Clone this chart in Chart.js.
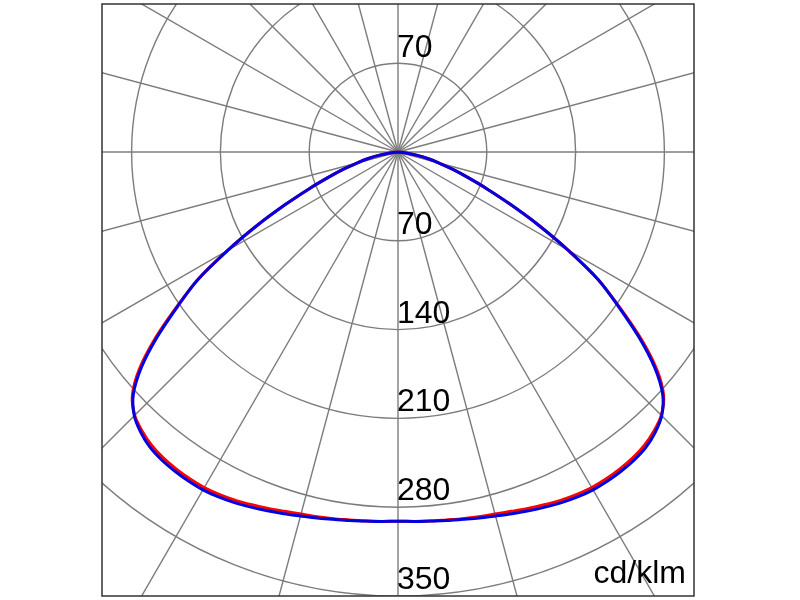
<!DOCTYPE html>
<html>
<head>
<meta charset="utf-8">
<script src="https://cdn.jsdelivr.net/npm/chart.js@4/dist/chart.umd.min.js"></script>
<style>
  html, body { margin: 0; padding: 0; background: #ffffff; }
  canvas { display: block; }
</style>
</head>
<body>
<canvas id="c" width="800" height="600"></canvas>
<script>
// ---- data ----
const gammaDeg      = [0, 2.5, 5, 7.5, 10, 12.5, 15, 17.5, 20, 22.5, 25, 27.5, 30, 32.5, 35, 37.5, 40, 42.5, 45,
                       47.5, 50, 52.5, 55, 57.5, 60, 62.5, 65, 67.5, 70, 72.5, 75, 77.5, 80, 82.5, 85];
const intensityC0   = [291, 291.5, 292, 293, 294, 295.5, 297, 299, 301, 303, 305, 306.5, 307.5, 307.5, 307, 306, 304, 300, 294,
                       283, 264, 239, 212, 187, 155, 125, 98, 76, 58.5, 45, 33.5, 24.5, 15.5, 6.5, 0];
const intensityC90  = [291, 291.5, 292, 292.5, 293.5, 294.5, 295.5, 297, 299, 301, 303, 304.5, 305.5, 305.5, 305, 304, 302, 298.5, 293.5,
                       284, 266, 241, 213, 187, 155, 125, 98, 76, 58.5, 45, 33.5, 24.5, 15.5, 6.5, 0];
const ringValues    = [70, 140, 210, 280, 350];
const ringLabels    = ['70', '140', '210', '280', '350'];
const spokeAngles   = [0, 15, 30, 45, 60, 75, 90, 105, 120, 135, 150, 165, 180, 195, 210, 225, 240, 255, 270, 285, 300, 315, 330, 345];
const unitLabel     = 'cd/klm';

// polar (gamma from nadir) -> cartesian points for both half-planes
function curvePoints(gammas, values) {
  const pts = [];
  for (let i = gammas.length - 1; i >= 0; i--) {
    const g = gammas[i] * Math.PI / 180;
    pts.push({ x: -values[i] * Math.sin(g), y: -values[i] * Math.cos(g) });
  }
  for (let i = 1; i < gammas.length; i++) {
    const g = gammas[i] * Math.PI / 180;
    pts.push({ x: values[i] * Math.sin(g), y: -values[i] * Math.cos(g) });
  }
  return pts;
}

const FONT = '"Liberation Sans", Arial, Helvetica, sans-serif';

const polarGrid = {
  id: 'polarGrid',
  beforeDatasetsDraw(chart) {
    const { ctx, chartArea: a, scales: { x, y } } = chart;
    const cx = x.getPixelForValue(0), cy = y.getPixelForValue(0);
    const ppu = x.getPixelForValue(1) - x.getPixelForValue(0);
    ctx.save();
    ctx.beginPath();
    ctx.rect(a.left, a.top, a.right - a.left, a.bottom - a.top);
    ctx.clip();
    ctx.strokeStyle = '#7c7c7c';
    ctx.lineWidth = 1.4;
    ringValues.forEach(r => {
      ctx.beginPath();
      ctx.arc(cx, cy, r * ppu, 0, Math.PI * 2);
      ctx.stroke();
    });
    const far = 2000;
    spokeAngles.forEach(d => {
      const t = d * Math.PI / 180;
      ctx.beginPath();
      ctx.moveTo(cx, cy);
      ctx.lineTo(cx + far * Math.sin(t), cy + far * Math.cos(t));
      ctx.stroke();
    });
    ctx.restore();
  },
  afterDatasetsDraw(chart) {
    const { ctx, chartArea: a, scales: { x, y } } = chart;
    const cx = x.getPixelForValue(0);
    ctx.save();
    ctx.fillStyle = '#000000';
    ctx.font = '32px ' + FONT;
    ctx.textAlign = 'left';
    ctx.textBaseline = 'alphabetic';
    ringValues.forEach((r, i) => {
      const yb = y.getPixelForValue(-r) - 7;
      if (yb <= a.bottom) ctx.fillText(ringLabels[i], cx - 1, yb);
      const yt = y.getPixelForValue(r) - 6;
      if (yt - 24 > a.top) ctx.fillText(ringLabels[i], cx - 1, yt);
    });
    ctx.textAlign = 'right';
    ctx.fillText(unitLabel, a.right - 8, a.bottom - 13);
    ctx.strokeStyle = '#333333';
    ctx.lineWidth = 1.5;
    ctx.strokeRect(a.left, a.top, a.right - a.left, a.bottom - a.top);
    ctx.restore();
  }
};

new Chart(document.getElementById('c'), {
  type: 'scatter',
  data: {
    datasets: [
      {
        label: 'C0-C180',
        data: curvePoints(gammaDeg, intensityC0),
        showLine: true,
        borderColor: '#0000e0',
        borderWidth: 3,
        pointRadius: 0,
        tension: 0.3,
        fill: false
      },
      {
        label: 'C90-C270',
        data: curvePoints(gammaDeg, intensityC90),
        showLine: true,
        borderColor: '#ff0000',
        borderWidth: 3,
        pointRadius: 0,
        tension: 0.3,
        fill: false
      }
    ]
  },
  options: {
    responsive: false,
    animation: false,
    layout: { padding: { left: 102, right: 106, top: 4, bottom: 4 } },
    plugins: { legend: { display: false }, tooltip: { enabled: false } },
    scales: {
      x: { type: 'linear', min: -233.33, max: 233.33, display: false },
      y: { type: 'linear', min: -350, max: 116.67, display: false }
    }
  },
  plugins: [polarGrid]
});
</script>
</body>
</html>
